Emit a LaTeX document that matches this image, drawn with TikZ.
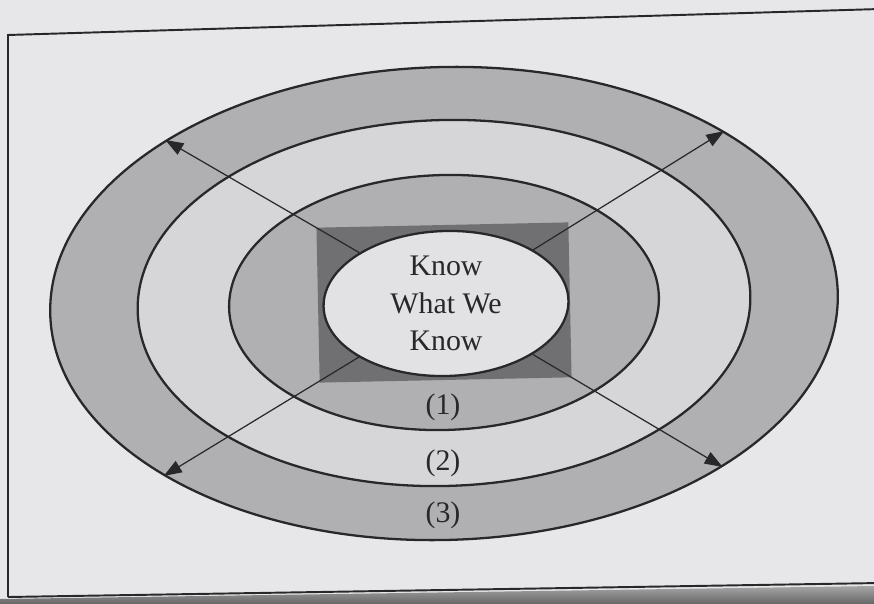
\documentclass[tikz,border=0pt]{standalone}
\usepackage{fontspec}
\setmainfont{Liberation Serif}
\usetikzlibrary{arrows.meta, shapes.geometric}
\definecolor{paper}{RGB}{231,230,232}
\definecolor{ink}{RGB}{40,40,42}
\definecolor{ringdark}{RGB}{176,176,178}
\definecolor{ringlight}{RGB}{214,214,216}
\definecolor{corefill}{RGB}{226,226,228}
\definecolor{boxfill}{RGB}{112,112,114}
\tikzset{
  ring/.style   = {ellipse, draw=ink, line width=1.3pt, inner sep=0pt, rotate=1.6},
  arrow/.style  = {-{Triangle[length=0.36cm, width=0.26cm]}, line width=0.7pt, color=ink},
  lbl/.style    = {font=\fontsize{17}{21.3}\selectfont, text=ink, align=center},
  frameline/.style = {draw=ink, line width=1.1pt},
}

\begin{document}
\begin{tikzpicture}[x=0.02cm, y=0.02cm]
  \useasboundingbox (0,0) rectangle (874,-604);
  \fill[paper] (0,0) rectangle (874,-604);
  % page edge shadow and frame
  \shade[top color=gray!70, bottom color=black!60] (0,-599) -- (874,-586) -- (874,-604) -- (0,-604) -- cycle;
  \draw[frameline] (8,-597) -- (8,-35) -- (880,-9);
  \draw[frameline] (8,-597) -- (880,-583);

  % rings from outside in
  \node[ring, fill=ringdark, minimum width=15.76cm, minimum height=9.46cm] (ring3) at (444,-303.5) {};
  \node[ring, fill=ringlight, minimum width=12.26cm, minimum height=7.32cm] (ring2) at (444,-303) {};
  \node[ring, fill=ringdark, minimum width=8.6cm, minimum height=5.1cm] (ring1) at (444,-302.5) {};
  \node[rectangle, fill=boxfill, minimum width=5.04cm, minimum height=3.1cm, inner sep=0pt, rotate=1.2] (box) at (444,-302.5) {};
  \node[ring, fill=corefill, minimum width=4.9cm, minimum height=2.9cm] (core) at (446,-303.5) {};
  \node[lbl] (know) at (core) {Know\\What We\\Know};

  \foreach \a in {30, 148, 210, 328}
    \draw[arrow] (core.\a) -- (ring3.\a);

  \node[lbl] (l1) at (443,-407) {(1)};
  \node[lbl] (l2) at (443,-463) {(2)};
  \node[lbl] (l3) at (443,-515) {(3)};
\end{tikzpicture}
\end{document}
